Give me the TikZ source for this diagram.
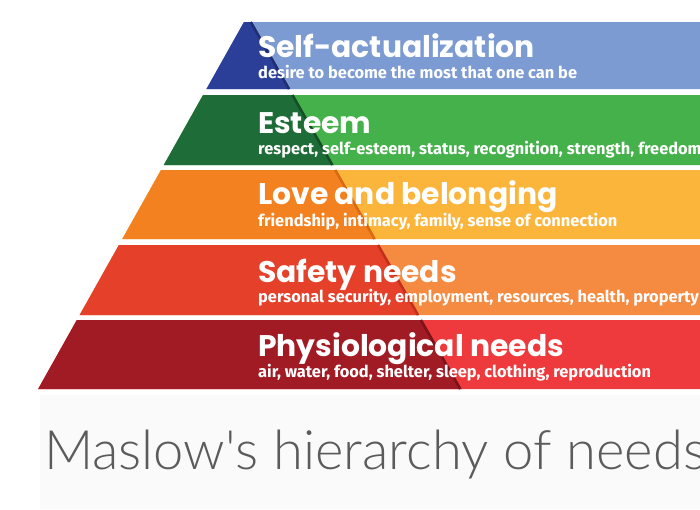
\documentclass[tikz,border=0pt]{standalone}
\usepackage{fontspec}
\newfontfamily\headfont{Poppins}
\newfontfamily\subfont{Fira Sans}
\newfontfamily\titlefont{Lato Light}
\definecolor{blueD}{HTML}{2B3F98}
\definecolor{blueL}{HTML}{7B9BD2}
\definecolor{blueS}{HTML}{1F2E72}
\definecolor{greenD}{HTML}{1E6C37}
\definecolor{greenL}{HTML}{45B14A}
\definecolor{greenS}{HTML}{154F27}
\definecolor{orD}{HTML}{F3811F}
\definecolor{orL}{HTML}{FCB53B}
\definecolor{orS}{HTML}{D96A12}
\definecolor{safD}{HTML}{E4402A}
\definecolor{safL}{HTML}{F58A41}
\definecolor{safS}{HTML}{C2301D}
\definecolor{phyD}{HTML}{A11B24}
\definecolor{phyL}{HTML}{EE3A3C}
\definecolor{phyS}{HTML}{7E1219}
\definecolor{titlegray}{HTML}{5B5B5B}
\definecolor{bgpale}{HTML}{FAFAFA}
\tikzset{
  head/.style={font=\headfont\bfseries\fontsize{29.8}{29.8}\selectfont, text=white, inner sep=0pt, anchor=base west},
  sub/.style={font=\subfont\bfseries\fontsize{16.4}{16.4}\selectfont, text=white, inner sep=0pt, anchor=base west},
  ttl/.style={font=\titlefont\fontsize{54.3}{54.3}\selectfont, text=titlegray, inner sep=0pt, anchor=base west}
}
\begin{document}
\begin{tikzpicture}[x=1pt,y=-1pt]
\useasboundingbox (0,0) rectangle (700,509);
\fill[white] (0,0) rectangle (700,509);
\fill[bgpale] (40,395) rectangle (700,509);
\foreach \ya/\yb/\cd/\cl/\cs in {22/89/blueD/blueL/blueS, 95/165/greenD/greenL/greenS, 170/239/orD/orL/orS, 245/315/safD/safL/safS, 320/389/phyD/phyL/phyS}{
  \pgfmathsetmacro\la{244-0.561*(\ya-22)}
  \pgfmathsetmacro\lb{244-0.561*(\yb-22)}
  \pgfmathsetmacro\da{252+0.571*(\ya-22)}
  \pgfmathsetmacro\db{252+0.571*(\yb-22)}
  \fill[\cl] (\la,\ya) -- (700,\ya) -- (700,\yb) -- (\lb,\yb) -- cycle;
  \fill[\cd] (\la,\ya) -- (\da,\ya) -- (\db,\yb) -- (\lb,\yb) -- cycle;
  \draw[\cs, line width=2.5pt] (\da-1.3,\ya) -- (\db-1.3,\yb);
}
\node[head] (h1) at (258,57) {Self-actualization};
\node[sub] (s1) at (258,78) {desire to become the most that one can be};
\node[head] (h2) at (258,133) {Esteem};
\node[sub] (s2) at (258,154) {respect, self-esteem, status, recognition, strength, freedom};
\node[head] (h3) at (258,204) {Love and belonging};
\node[sub] (s3) at (258,226) {friendship, intimacy, family, sense of connection};
\node[head] (h4) at (258,282) {Safety needs};
\node[sub] (s4) at (258,302) {personal security, employment, resources, health, property};
\node[head] (h5) at (258,356) {Physiological needs};
\node[sub] (s5) at (258,377) {air, water, food, shelter, sleep, clothing, reproduction};
\node[ttl] (t) at (44,469) {Maslow's hierarchy of needs};
\end{tikzpicture}
\end{document}
